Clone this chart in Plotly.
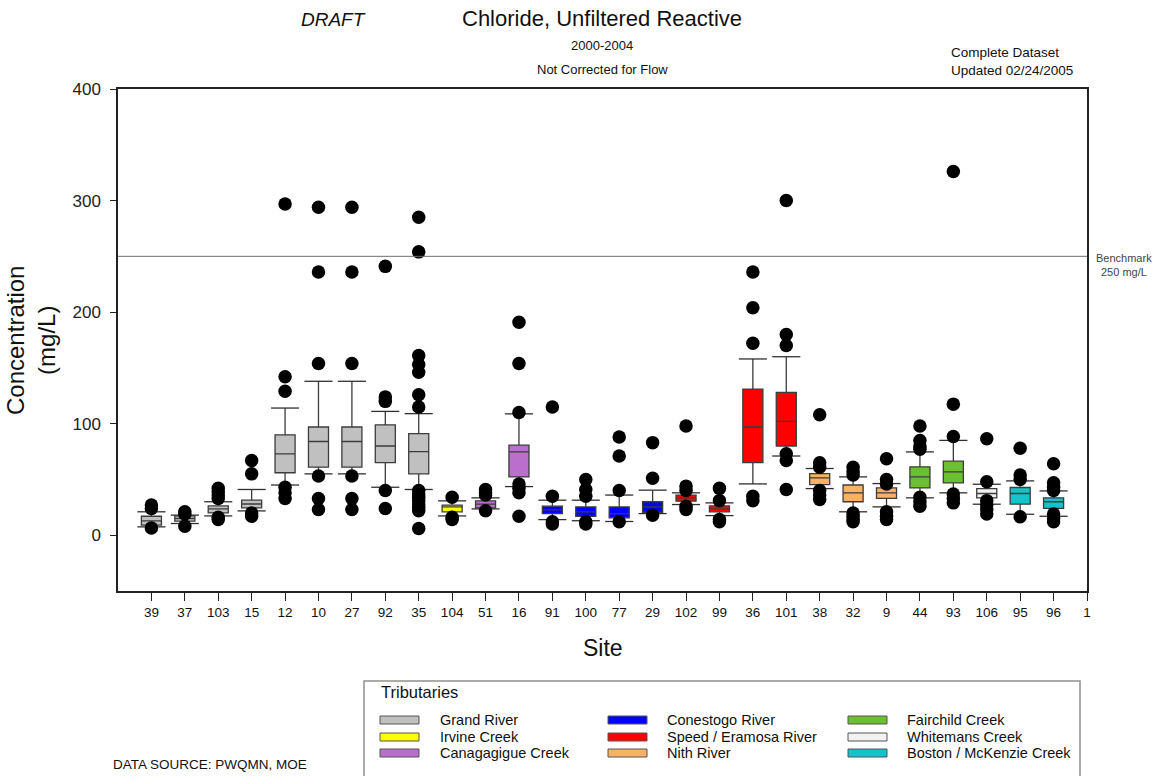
import plotly.graph_objects as go

# ---------------- data ----------------
site_labels = ["39", "37", "103", "15", "12", "10", "27", "92", "35", "104", "51", "16", "91", "100",
               "77", "29", "102", "99", "36", "101", "38", "32", "9", "44", "93", "106", "95", "96", "1"]
tributary = ["Grand River"] * 9 + ["Irvine Creek"] + ["Canagagigue Creek"] * 2 + ["Conestogo River"] * 4 + \
            ["Speed / Eramosa River"] * 4 + ["Nith River"] * 3 + ["Fairchild Creek"] * 2 + \
            ["Whitemans Creek"] + ["Boston / McKenzie Creek"] * 2 + [None]

lower = [7.5, 10.5, 17.3, 21.8, 45, 55, 55, 43, 41, 17.3, 23.6, 43.6, 14, 13, 12.3, 19.4, 27.5, 17.6,
         46, 71, 41.8, 21, 25.4, 33.5, 38, 27.8, 18.8, 17, None]
q1 = [9, 12.6, 20, 24.5, 56, 61, 61, 65, 55, 21, 24.5, 52.3, 19.4, 17, 15.6, 20.6, 30.5, 21,
      65, 80, 45.4, 30, 33, 42.4, 47, 33.5, 27.8, 24, None]
median = [12.8, 15, 23.6, 28, 73, 84, 84, 80, 75, 25.4, 27.8, 74.7, 22.7, 21, 19.4, 25.4, 33.5, 23.6,
          97, 102, 51.4, 38, 38, 52.3, 56.8, 37.4, 37.4, 30, None]
q3 = [17, 17.3, 26.3, 31.4, 90, 97, 97, 99, 91, 27, 30.8, 80.7, 26, 25.4, 25.4, 30, 36, 26.3,
      131, 128, 55.3, 45, 42.4, 61.3, 66.4, 41.8, 42.8, 33.5, None]
upper = [21, 18, 30, 41, 114, 138, 138, 111, 109, 30.8, 33.5, 108.8, 31.4, 31.4, 36, 40.4, 38, 29,
         158, 160, 59.8, 52.3, 46.3, 74.7, 85, 45.7, 48.7, 39.7, None]
outliers = [
    [27, 24, 6.5],
    [21, 19, 8],
    [42, 39, 36, 33, 16, 14],
    [67, 55, 20, 17],
    [297, 142, 129, 43, 38, 33],
    [294, 236, 154, 53, 33, 23],
    [294, 236, 154, 53, 33, 23],
    [241, 124, 120, 40, 24],
    [285, 254, 161, 153, 146, 126, 115, 40, 37, 34, 31, 28, 25, 22, 6],
    [34, 16, 14],
    [41, 38, 36, 22],
    [191, 154, 110, 46, 42, 38, 17],
    [115, 35, 12, 10],
    [50, 41, 35, 12, 10],
    [88, 71, 40, 12],
    [83, 51, 18],
    [98, 44, 40, 26, 23],
    [42, 31, 14, 12],
    [236, 204, 172, 35, 31],
    [300, 180, 170, 73, 67, 41],
    [108, 65, 61, 40, 36, 32],
    [61, 57, 54, 20, 17, 14, 12],
    [68.5, 50, 46, 21, 17, 14],
    [98, 85, 80, 77, 34, 30, 26],
    [326, 117.5, 88.5, 37, 33, 29],
    [86.5, 48, 31, 27, 23, 19],
    [78, 54, 50, 16.5],
    [64, 47, 43, 40, 19, 15, 12],
    [],
]

legend_names = ["Grand River", "Irvine Creek", "Canagagigue Creek",
                "Conestogo River", "Speed / Eramosa River", "Nith River",
                "Fairchild Creek", "Whitemans Creek", "Boston / McKenzie Creek"]
legend_colors = ["#c0c0c0", "#ffff00", "#bb6fcc",
                 "#0000ff", "#ff0000", "#f7b266",
                 "#6cc030", "#f2f2f2", "#14c4cc"]
color_of = dict(zip(legend_names, legend_colors))

benchmark = 250
y_ticks = [0, 100, 200, 300, 400]

# ---------------- layout helpers ----------------
W, H = 1156, 776
L, R, T, B = 118, 1087, 89, 591
FONT = "Arial, Liberation Sans, sans-serif"


def px2x(px):
    return (px - L) / (R - L)


def px2y(py):
    return (B - py) / (B - T)


positions = list(range(1, len(site_labels) + 1))

fig = go.Figure()

# boxes, one trace per tributary
for name in legend_names:
    idx = [i for i, t in enumerate(tributary) if t == name]
    fig.add_trace(go.Box(
        x=[positions[i] for i in idx],
        q1=[q1[i] for i in idx],
        median=[median[i] for i in idx],
        q3=[q3[i] for i in idx],
        lowerfence=[lower[i] for i in idx],
        upperfence=[upper[i] for i in idx],
        width=0.6, whiskerwidth=0,
        fillcolor=color_of[name],
        line=dict(color="#3c3c3c", width=1.3),
        boxpoints=False, showlegend=False, name=name,
    ))

# whisker caps
cap_x, cap_y = [], []
for i, p in enumerate(positions):
    if lower[i] is None:
        continue
    for v in (lower[i], upper[i]):
        cap_x += [p - 0.42, p + 0.42, None]
        cap_y += [v, v, None]
fig.add_trace(go.Scatter(x=cap_x, y=cap_y, mode="lines",
                         line=dict(color="#303030", width=1.3),
                         showlegend=False, hoverinfo="skip"))

# outliers
ox, oy = [], []
for p, vals in zip(positions, outliers):
    ox += [p] * len(vals)
    oy += vals
fig.add_trace(go.Scatter(x=ox, y=oy, mode="markers",
                         marker=dict(color="black", size=13.5, line=dict(width=0)),
                         showlegend=False))

shapes = [dict(type="line", xref="paper", yref="y", x0=0, x1=1, y0=benchmark, y1=benchmark,
               line=dict(color="#707070", width=1))]
annotations = []


def text(s, px, py, size, xanchor="center", italic=False, color="#111"):
    annotations.append(dict(
        text=("<i>%s</i>" % s) if italic else s,
        xref="paper", yref="paper", x=px2x(px), y=px2y(py),
        xanchor=xanchor, yanchor="middle", showarrow=False,
        font=dict(family=FONT, size=size, color=color)))


text("DRAFT", 333, 20, 19, italic=True)
text("Chloride, Unfiltered Reactive", 602, 19, 22)
text("2000-2004", 602, 45, 13)
text("Not Corrected for Flow", 602, 69, 13)
text("Complete Dataset", 949, 52, 13.5, xanchor="left")
text("Updated 02/24/2005", 949, 70, 13.5, xanchor="left")
text("Benchmark", 1124, 258, 11, color="#444")
text("250 mg/L", 1124, 272, 11, color="#444")
text("Site", 603, 648, 23)
text("DATA SOURCE: PWQMN, MOE", 111, 764, 13.5, xanchor="left")
annotations.append(dict(text="Concentration<br>(mg/L)", xref="paper", yref="paper",
                        x=px2x(31), y=px2y(341), textangle=-90, showarrow=False,
                        xanchor="center", yanchor="middle",
                        font=dict(family=FONT, size=24, color="#111")))

# legend box (drawn manually)
shapes.append(dict(type="rect", xref="paper", yref="paper",
                   x0=px2x(364), x1=px2x(1080), y0=px2y(681), y1=px2y(790),
                   line=dict(color="#909090", width=1.5), fillcolor="white"))
text("Tributaries", 379, 692, 16.5, xanchor="left")
col_sw = [380, 608, 848]
col_tx = [438, 665, 905]
row_y = [720, 737, 753]
for k, (nm, col) in enumerate(zip(legend_names, legend_colors)):
    c, r = k // 3, k % 3
    shapes.append(dict(type="rect", xref="paper", yref="paper",
                       x0=px2x(col_sw[c]), x1=px2x(col_sw[c] + 39),
                       y0=px2y(row_y[r] + 4), y1=px2y(row_y[r] - 4),
                       line=dict(color="#555", width=1), fillcolor=col))
    text(nm, col_tx[c], row_y[r], 14.5, xanchor="left")

fig.update_layout(
    width=W, height=H,
    margin=dict(l=L, r=W - R, t=T, b=H - B),
    paper_bgcolor="white", plot_bgcolor="white",
    font=dict(family=FONT, color="#111"),
    showlegend=False,
    shapes=shapes, annotations=annotations,
    xaxis=dict(range=[0, len(site_labels)], tickmode="array", tickvals=positions, ticktext=site_labels,
               ticks="outside", ticklen=8, tickcolor="#222", showgrid=False, zeroline=False,
               showline=True, mirror=True, linecolor="#222", linewidth=1.5,
               tickfont=dict(size=13.5, family=FONT, color="#111")),
    yaxis=dict(range=[-50, 400], tickmode="array", tickvals=y_ticks,
               ticks="outside", ticklen=6, tickcolor="#222", showgrid=False, zeroline=False,
               showline=True, mirror=True, linecolor="#222", linewidth=1.5,
               ticklabelstandoff=6,
               tickfont=dict(size=17, family=FONT, color="#222")),
)

fig.write_html("out.html")
